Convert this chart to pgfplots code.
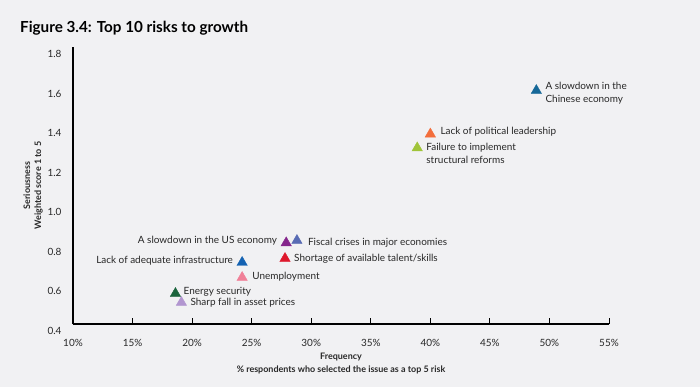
\documentclass[border=0pt]{standalone}
\usepackage{fontspec}
\setmainfont{Lato}
\usepackage{pgfplots}
\pgfplotsset{compat=1.18}
\definecolor{bg}{RGB}{241,241,243}
\definecolor{txt}{RGB}{40,40,40}
\definecolor{cChina}{RGB}{22,104,152}
\definecolor{cPol}{RGB}{243,110,60}
\definecolor{cFail}{RGB}{160,196,57}
\definecolor{cUS}{RGB}{133,38,140}
\definecolor{cFisc}{RGB}{88,107,180}
\definecolor{cShort}{RGB}{222,24,44}
\definecolor{cInfra}{RGB}{20,98,178}
\definecolor{cUnemp}{RGB}{240,128,152}
\definecolor{cEnergy}{RGB}{26,100,60}
\definecolor{cSharp}{RGB}{178,150,208}
\pgfplotsset{
  pt/.style n args={4}{only marks, mark=triangle*, mark size=6bp, color=#1,
    mark options={draw=none, fill=#1},
    nodes near coords={#2},
    every node near coord/.append style={anchor=west, align=left, inner sep=0pt,
      xshift=#3, yshift=#4, text=txt, font=\fontsize{10}{13}\selectfont}},
  ptl/.style n args={4}{only marks, mark=triangle*, mark size=6bp, color=#1,
    mark options={draw=none, fill=#1},
    nodes near coords={#2},
    every node near coord/.append style={anchor=east, align=right, inner sep=0pt,
      xshift=#3, yshift=#4, text=txt, font=\fontsize{10}{13}\selectfont}},
}
\begin{document}
\begin{tikzpicture}
\fill[bg] (-73bp,-63bp) rectangle (627bp,324bp);
\begin{axis}[
  at={(0,0)}, anchor=south west, scale only axis,
  width=536bp, height=277bp,
  xmin=10, xmax=55, ymin=0.4, ymax=1.8,
  clip=false,
  axis lines*=left,
  axis line style={line width=1.3bp, black},
  xtick={10,15,20,25,30,35,40,45,50,55},
  ytick={0.4,0.6,0.8,1.0,1.2,1.4,1.6,1.8},
  xticklabel={\pgfmathprintnumber{\tick}\%},
  tick align=inside, major tick length=6bp,
  y tick style={draw=none},
  x tick style={line width=1bp, black},
  tick label style={font=\fontsize{10}{12}\selectfont, text=txt},
  xticklabel style={yshift=-12bp},
  yticklabel style={yshift=-7bp, xshift=-8bp, /pgf/number format/.cd, fixed, fixed zerofill, precision=1},
  /pgf/number format/assume math mode=true,
  xlabel={\textbf{Frequency}\\\textbf{\% respondents who selected the issue as a top 5 risk}},
  xlabel style={at={(axis description cs:0.5,-0.1426)}, anchor=center, align=center,
    font=\fontsize{9}{12.5}\selectfont, text=txt},
  ylabel={\textbf{Seriousness}\\\textbf{Weighted score 1 to 5}},
  ylabel style={at={(axis description cs:-0.0746,0.5)}, anchor=center, align=center,
    font=\fontsize{9}{11}\selectfont, text=txt},
]
\addplot[pt={cChina}{A slowdown in the\\Chinese economy}{9bp}{-3bp}] coordinates {(48.9,1.58)};
\addplot[pt={cPol}{Lack of political leadership}{10bp}{2bp}] coordinates {(40.0,1.36)};
\addplot[pt={cFail}{Failure to implement\\structural reforms}{9bp}{-5.5bp}] coordinates {(38.9,1.29)};
\addplot[ptl={cUS}{A slowdown in the US economy}{-9bp}{2.5bp}] coordinates {(27.9,0.81)};
\addplot[pt={cFisc}{Fiscal crises in major economies}{11bp}{-2.5bp}] coordinates {(28.8,0.822)};
\addplot[pt={cShort}{Shortage of available talent/skills}{9bp}{-0.5bp}] coordinates {(27.8,0.731)};
\addplot[ptl={cInfra}{Lack of adequate infrastructure}{-9bp}{1.5bp}] coordinates {(24.2,0.711)};
\addplot[pt={cUnemp}{Unemployment}{10bp}{0.5bp}] coordinates {(24.2,0.635)};
\addplot[pt={cEnergy}{Energy security}{8bp}{1.5bp}] coordinates {(18.6,0.554)};
\addplot[pt={cSharp}{Sharp fall in asset prices}{9bp}{-0.5bp}] coordinates {(19.1,0.509)};
\end{axis}
\node[anchor=base west, inner sep=0pt, font=\fontsize{15.3}{17}\selectfont\bfseries, text=black] at (-53bp,291bp) {Figure 3.4: Top 10 risks to growth};
\end{tikzpicture}
\end{document}
